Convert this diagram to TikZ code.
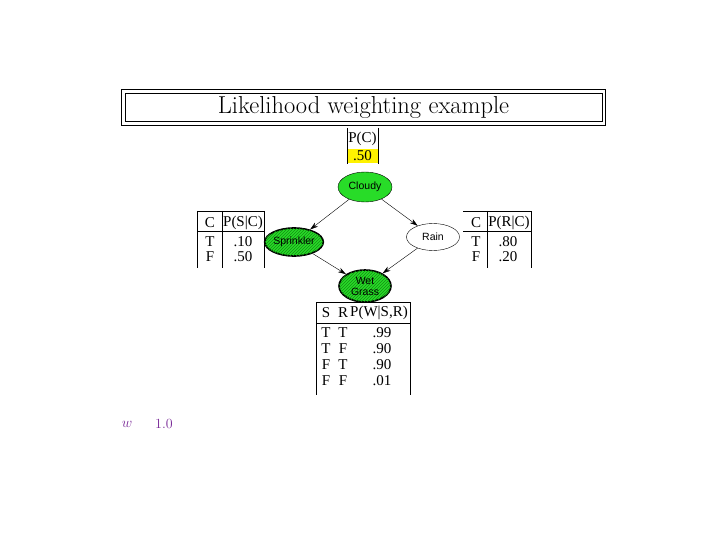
\documentclass[tikz,border=0pt]{standalone}
\usepackage{fontspec}
\usepackage{xcolor}
\usetikzlibrary{arrows.meta,positioning,shapes.geometric,patterns}
\newfontfamily\tabfont{Liberation Serif}
\newfontfamily\netfont{Liberation Sans}
\definecolor{netgreen}{RGB}{40,220,40}
\definecolor{hatchgreen}{RGB}{20,140,20}
\definecolor{wpurple}{RGB}{120,40,150}

\begin{document}
\begin{tikzpicture}[x=1pt,y=-1pt,
 net/.style={draw,ellipse,inner sep=0pt,align=center,font=\netfont\fontsize{10.5}{11}\selectfont},
 evid/.style={net,line width=1.6pt,fill=netgreen,postaction={pattern=north east lines,pattern color=hatchgreen}},
 cell/.style={inner sep=0pt,font=\tabfont\fontsize{15}{15}\selectfont},
 arr/.style={-{Stealth[length=8pt,width=5pt]}}]
\useasboundingbox (0,0) rectangle (720,540);
\node[draw,line width=0.8pt,minimum width=477pt,minimum height=22pt,
 font=\fontsize{24.5}{26}\selectfont] (title) at (363.5,107.5) {Likelihood weighting example};
\draw[line width=0.8pt] ([shift={(-3pt,3pt)}]title.north west) rectangle ([shift={(3pt,-3pt)}]title.south east);
% the network
\node[net,fill=netgreen,minimum width=54pt,minimum height=30pt] (cloudy) at (365,187) {Cloudy};
\node[evid,minimum width=55pt,minimum height=28pt] (spr) at (294,242) {Sprinkler};
\node[net,minimum width=53pt,minimum height=27pt] (rain) at (433,237) {Rain};
\node[evid,minimum width=52pt,minimum height=32pt] (wet) at (365,286) {Wet\\Grass};
\draw[arr](cloudy)--(spr);\draw[arr](cloudy)--(rain);
\draw[arr](spr)--(wet);\draw[arr](rain)--(wet);
% P(C)
\node[cell] (pc) at (362.5,139) {P(C)};
\node[cell,fill=yellow,minimum width=31pt,minimum height=14pt] (pcv) at (362.5,156) {.50};
\draw (347,128)--(347,164) (378,128)--(378,164);
% P(S|C)
\node[cell] (sc) at (210,223) {C};
\node[cell] (sp) at (243,223) {P(S|C)};
\node[cell] (st) at (210,242) {T};
\node[cell] (stv) at (243,242) {.10};
\node[cell] (sf) at (210,257) {F};
\node[cell] (sfv) at (243,257) {.50};
\draw (197,211)--(264,211) (197,231)--(264,231);
\draw (197,211)--(197,268) (222,211)--(222,268) (264,211)--(264,268);
% P(R|C)
\node[cell] (rc) at (476,223) {C};
\node[cell] (rp) at (509,223) {P(R|C)};
\node[cell] (rt) at (476,242) {T};
\node[cell] (rtv) at (508,242) {.80};
\node[cell] (rf) at (476,257) {F};
\node[cell] (rfv) at (508,257) {.20};
\draw (463,211)--(531,211) (463,231)--(531,231);
\draw (487,211)--(487,268) (531,211)--(531,268);
% P(W|S,R)
\node[cell] (ws) at (326,313) {S};
\node[cell] (wr) at (343,313) {R};
\node[cell] (wp) at (379,313) {P(W|S,R)};
\foreach \s/\r/\p [count=\i] in {T/T/.99,T/F/.90,F/T/.90,F/F/.01}{
 \node[cell] (ws\i) at (326,317+16*\i) {\s};
 \node[cell] (wr\i) at (343,317+16*\i) {\r};
 \node[cell] (wp\i) at (382,317+16*\i) {\p};
}
\draw (316,302)--(410,302) (316,323)--(410,323);
\draw (316,302)--(316,395) (410,302)--(410,395);
% weight
\node[text=wpurple,font=\fontsize{14}{14}\selectfont] (w) at (127,424) {$w$};
\node[text=wpurple,font=\fontsize{14}{14}\selectfont] (wval) at (164,424) {1.0};
\end{tikzpicture}
\end{document}
